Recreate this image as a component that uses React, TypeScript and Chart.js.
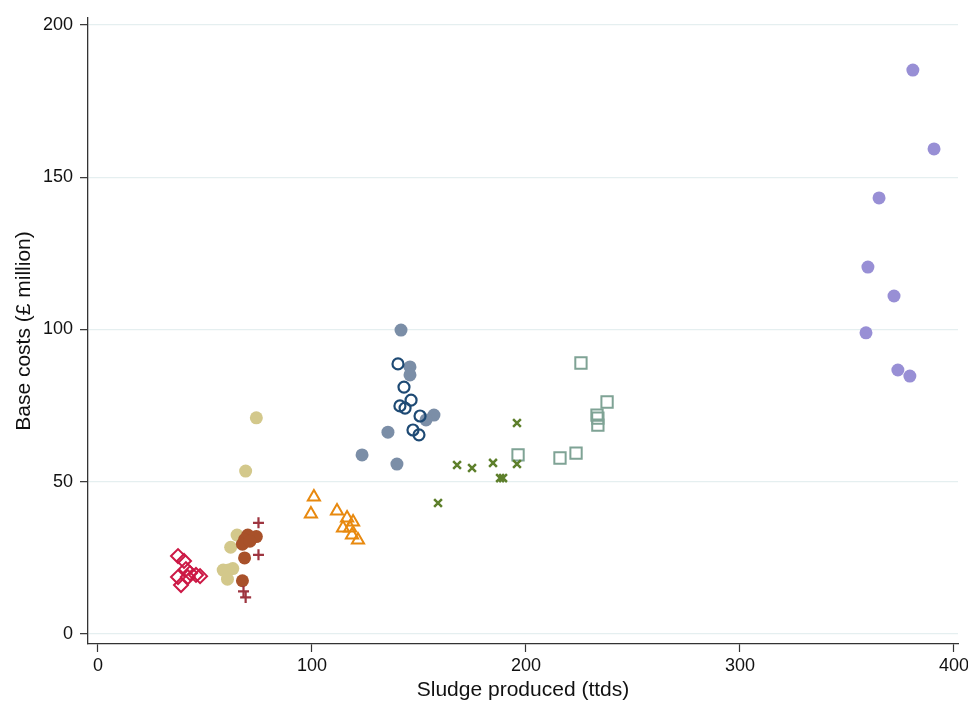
import React, { useEffect, useRef } from "react";
import { Chart, registerables } from "chart.js";

Chart.register(...registerables);

// Category groups (x = sludge produced, y = base costs)
const diamondX = [37.4, 40.2, 41.1, 37.4, 38.8, 43.0, 45.8, 47.7, 42.0];
const diamondY = [25.6, 24.0, 21.3, 18.7, 16.1, 20.0, 19.4, 19.0, 18.7];

const khakiX = [74, 69, 65, 62, 58.5, 61, 63, 60.5];
const khakiY = [71, 53.5, 32.5, 28.5, 21, 21, 21.5, 18];

const brownX = [74, 70, 68.5, 67.5, 71, 68.5, 67.5];
const brownY = [32, 32.5, 31, 29.5, 30.5, 25, 17.5];

const plusX = [75, 75, 68, 69];
const plusY = [36.5, 26, 14, 12];

const triX = [100.9, 99.5, 111.7, 116.4, 119.2, 114.5, 117.8, 118.7, 121.5];
const triY = [45, 39.4, 40.4, 38.1, 36.8, 34.8, 34.8, 32.5, 30.9];

const hollowX = [140.2, 143, 146.3, 141.1, 143.5, 150.5, 147.2, 150];
const hollowY = [88.7, 81.1, 76.8, 74.9, 74.2, 71.6, 67, 65.4];

const slateX = [141.6, 145.8, 145.8, 157, 153.3, 135.5, 123.4, 139.7];
const slateY = [99.8, 87.7, 85.1, 71.9, 70.3, 66.3, 58.8, 55.8];

const crossX = [195.8, 167.8, 174.8, 184.6, 187.9, 189.3, 195.8, 158.9];
const crossY = [69.3, 55.5, 54.5, 56.2, 51.2, 51.2, 55.8, 43];

const squareX = [225.7, 237.9, 233.2, 233.6, 233.6, 223.4, 215.9, 196.3];
const squareY = [89, 76.2, 71.9, 70.9, 68.6, 59.4, 57.8, 58.8];

const lavX = [380.8, 390.7, 365, 359.8, 372, 358.9, 373.8, 379.4];
const lavY = [185.2, 159.3, 143.2, 120.5, 111, 98.9, 86.7, 84.7];

const xTicks = [0, 100, 200, 300, 400];
const yTicks = [0, 50, 100, 150, 200];

const pts = (xs: number[], ys: number[]) => xs.map((x, i) => ({ x, y: ys[i] }));

const FONT = "'Liberation Sans', Arial, Helvetica, sans-serif";

export default function App() {
  const ref = useRef<HTMLCanvasElement | null>(null);
  useEffect(() => {
    if (!ref.current) return;
    const mk = (xs: number[], ys: number[], style: any, color: string, fill: boolean, radius: number, bw: number) => ({
      data: pts(xs, ys),
      pointStyle: style,
      pointRadius: radius,
      pointBorderColor: color,
      pointBackgroundColor: fill ? color : "rgba(0,0,0,0)",
      pointBorderWidth: bw,
      showLine: false,
    });
    const chart = new Chart(ref.current, {
      type: "scatter",
      data: {
        datasets: [
          mk(plusX, plusY, "cross", "#9e3540", false, 5.5, 2.2),
          mk(diamondX, diamondY, "rectRot", "#cc1845", false, 7, 2),
          mk(brownX, brownY, "circle", "#a8512a", true, 6.5, 0),
          mk(khakiX, khakiY, "circle", "#d3c88b", true, 6.5, 0),
          mk(triX, triY, "triangle", "#e8890f", false, 7, 2),
          mk(hollowX, hollowY, "circle", "#1e4a74", false, 5.5, 2.2),
          mk(slateX, slateY, "circle", "#7b8ea7", true, 6.5, 0),
          mk(crossX, crossY, "crossRot", "#5d7f2b", false, 5.5, 2.5),
          mk(squareX, squareY, "rect", "#7fa395", false, 8, 2),
          mk(lavX, lavY, "circle", "#988fd5", true, 6.5, 0),
        ] as any,
      },
      options: {
        responsive: false,
        animation: false,
        events: [],
        layout: { padding: { top: 18, right: 10, left: 0, bottom: 0 } },
        plugins: { legend: { display: false }, tooltip: { enabled: false } },
        scales: {
          x: {
            type: "linear",
            min: -4.67,
            max: 401.9,
            afterFit: (s: any) => { s.height = 67; s.paddingRight = 0; s.paddingLeft = 0; },
            afterBuildTicks: (s: any) => { s.ticks = xTicks.map((v) => ({ value: v })); },
            ticks: { font: { family: FONT, size: 18 }, color: "#111", padding: 3, maxRotation: 0, includeBounds: false },
            grid: { drawOnChartArea: false, drawTicks: true, tickLength: 8, tickColor: "#333", tickWidth: 1.2 },
            border: { display: true, color: "#333", width: 1.3 },
            title: { display: true, text: "Sludge produced (ttds)", font: { family: FONT, size: 21 }, color: "#111", padding: { top: 0, bottom: 8 } },
          },
          y: {
            type: "linear",
            min: -3.28,
            max: 202.3,
            afterFit: (s: any) => { s.width = 88; s.paddingTop = 0; s.paddingBottom = 0; },
            afterBuildTicks: (s: any) => { s.ticks = yTicks.map((v) => ({ value: v })); },
            ticks: { font: { family: FONT, size: 18 }, color: "#111", padding: 7, includeBounds: false },
            grid: { drawOnChartArea: true, color: "#e5eff0", lineWidth: 1.3, drawTicks: true, tickLength: 8, tickColor: "#333", tickWidth: 1.2 },
            border: { display: true, color: "#333", width: 1.3 },
            title: { display: true, text: "Base costs (£ million)", font: { family: FONT, size: 21 }, color: "#111", padding: { top: 12, bottom: 0 } },
          },
        },
      } as any,
    });
    return () => chart.destroy();
  }, []);
  return (
    <div style={{ position: "fixed", left: 0, top: 0, width: 968, height: 711, background: "#fff" }}>
      <canvas ref={ref} width={968} height={711} style={{ width: 968, height: 711 }} />
    </div>
  );
}
